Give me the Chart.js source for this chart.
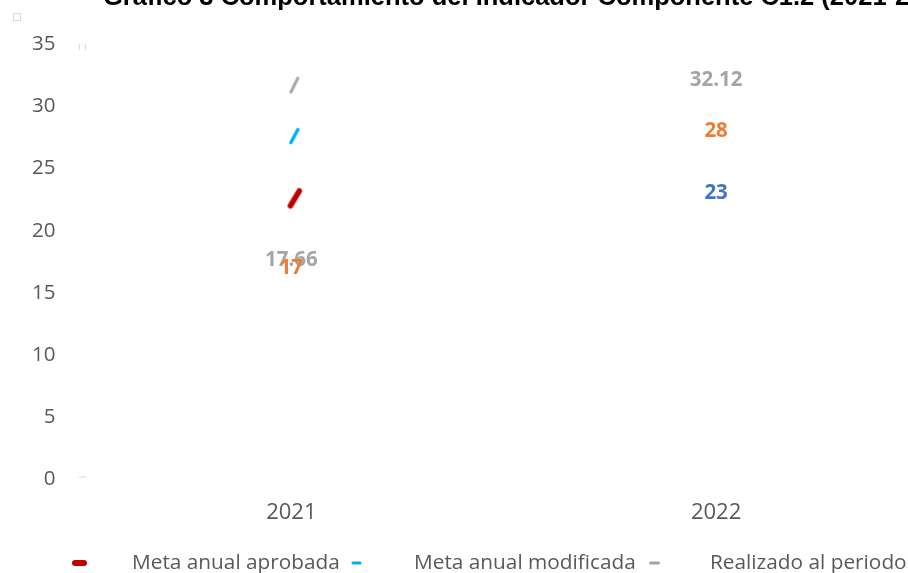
<!DOCTYPE html>
<html>
<head>
<meta charset="utf-8">
<script src="https://cdn.jsdelivr.net/npm/chart.js@4"></script>
<style>
html,body{margin:0;padding:0;overflow:hidden;background:#fff;width:908px;height:573px;}
#wrap{position:absolute;left:0;top:0;width:940px;height:573px;}
</style>
</head>
<body>
<div id="wrap"><canvas id="c"></canvas></div>
<script>
// ---- data ----
const categories = ['2021', '2022'];
const seriesNames = ['Meta anual aprobada', 'Meta anual modificada', 'Realizado al periodo'];
// marker positions as drawn in the picture
const markAprobada = [22.6, null];
const markModificada = [27.6, null];
const markRealizado = [31.7, null];
// data label values
const labelRealizado = [17.66, 32.12];
const labelModificada = [17, 28];
const labelAprobada = [null, 23];
const yTicks = [0, 5, 10, 15, 20, 25, 30, 35];

const TEXT = '#595959';
function slantMarker(color, w, hx, hy, off) {
  const c = document.createElement('canvas');
  c.width = 40; c.height = 40;
  const g = c.getContext('2d');
  g.strokeStyle = color; g.lineWidth = w; g.lineCap = 'round';
  g.beginPath();
  g.moveTo(20 + off - hx, 20 + hy);
  g.lineTo(20 + off + hx, 20 - hy);
  g.stroke();
  return c;
}
const mkRed = slantMarker('#C00000', 5.5, 4.5, 7.5, 3.5);
const mkBlue = slantMarker('#00B0F0', 3.5, 3.5, 6.5, 3);
const mkGray = slantMarker('#A5A5A5', 3, 3.5, 7, 3);

const labelSets = [
  {vals: labelRealizado, color: '#A5A5A5'},
  {vals: labelModificada, color: '#ED7D31'},
  {vals: labelAprobada, color: '#4472C4'}
];

const decor = {
  id: 'decor',
  afterDraw(chart) {
    const ctx = chart.ctx, ca = chart.chartArea;
    const xs = chart.scales.x, ys = chart.scales.y;
    ctx.save();
    // data labels
    ctx.font = 'bold 20.5px "Open Sans"';
    ctx.textAlign = 'center'; ctx.textBaseline = 'middle';
    labelSets.forEach(s => {
      s.vals.forEach((v, i) => {
        if (v === null) return;
        ctx.fillStyle = s.color;
        ctx.fillText(String(v), xs.getPixelForValue(i), ys.getPixelForValue(v));
      });
    });
    // title (clipped at top)
    ctx.font = 'bold 25.5px "Liberation Sans"';
    ctx.textAlign = 'left'; ctx.textBaseline = 'alphabetic';
    ctx.fillStyle = '#000';
    ctx.fillText('Gráfico 3 Comportamiento del Indicador Componente C1.2 (2021-2022)', 103, 5);
    // faint artifacts
    ctx.strokeStyle = '#d9d9d9'; ctx.lineWidth = 1;
    ctx.strokeRect(13.5, 13.5, 7, 7);
    ctx.beginPath();
    ctx.moveTo(ca.left + 0.5, ca.top); ctx.lineTo(ca.left + 0.5, ca.top + 6);
    ctx.moveTo(ca.left + 6.5, ca.top); ctx.lineTo(ca.left + 6.5, ca.top + 6);
    ctx.moveTo(ca.left, ca.bottom - 2.5); ctx.lineTo(ca.left + 7, ca.bottom - 2.5);
    ctx.stroke();
    // legend
    ctx.font = '20.8px "Open Sans"';
    ctx.textBaseline = 'middle';
    const ly = 563;
    const mk = [
      {c: '#C00000', w: 6, len: 9, x: 79.5, tx: 132},
      {c: '#00B0F0', w: 3, len: 7, x: 356.5, tx: 414},
      {c: '#A5A5A5', w: 3, len: 8, x: 654.5, tx: 710}
    ];
    seriesNames.forEach((n, i) => {
      const m = mk[i];
      ctx.strokeStyle = m.c; ctx.lineWidth = m.w; ctx.lineCap = 'round';
      ctx.beginPath();
      ctx.moveTo(m.x - m.len / 2, ly); ctx.lineTo(m.x + m.len / 2, ly);
      ctx.stroke();
      ctx.fillStyle = TEXT;
      ctx.fillText(n, m.tx, ly);
    });
    ctx.restore();
  }
};

new Chart(document.getElementById('c'), {
  type: 'line',
  data: {
    labels: categories,
    datasets: [
      {label: seriesNames[0], data: markAprobada, showLine: false, pointStyle: mkRed, borderColor: '#C00000', backgroundColor: '#C00000'},
      {label: seriesNames[1], data: markModificada, showLine: false, pointStyle: mkBlue, borderColor: '#00B0F0', backgroundColor: '#00B0F0'},
      {label: seriesNames[2], data: markRealizado, showLine: false, pointStyle: mkGray, borderColor: '#A5A5A5', backgroundColor: '#A5A5A5'}
    ]
  },
  options: {
    responsive: true,
    maintainAspectRatio: false,
    animation: false,
    events: [],
    layout: {padding: {left: 8.5, right: 11.5, top: 44, bottom: 27}},
    plugins: {legend: {display: false}, tooltip: {enabled: false}, title: {display: false}},
    scales: {
      x: {
        offset: true,
        grid: {display: false, drawTicks: false},
        border: {display: false},
        ticks: {color: TEXT, font: {family: 'Open Sans', size: 22}, padding: 20}
      },
      y: {
        min: 0, max: 35,
        afterBuildTicks(axis) { axis.ticks = yTicks.map(v => ({value: v})); },
        grid: {display: false, drawTicks: false},
        border: {display: false},
        ticks: {color: TEXT, font: {family: 'Open Sans', size: 20.5}, padding: 23.5}
      }
    }
  },
  plugins: [decor]
});
</script>
</body>
</html>
